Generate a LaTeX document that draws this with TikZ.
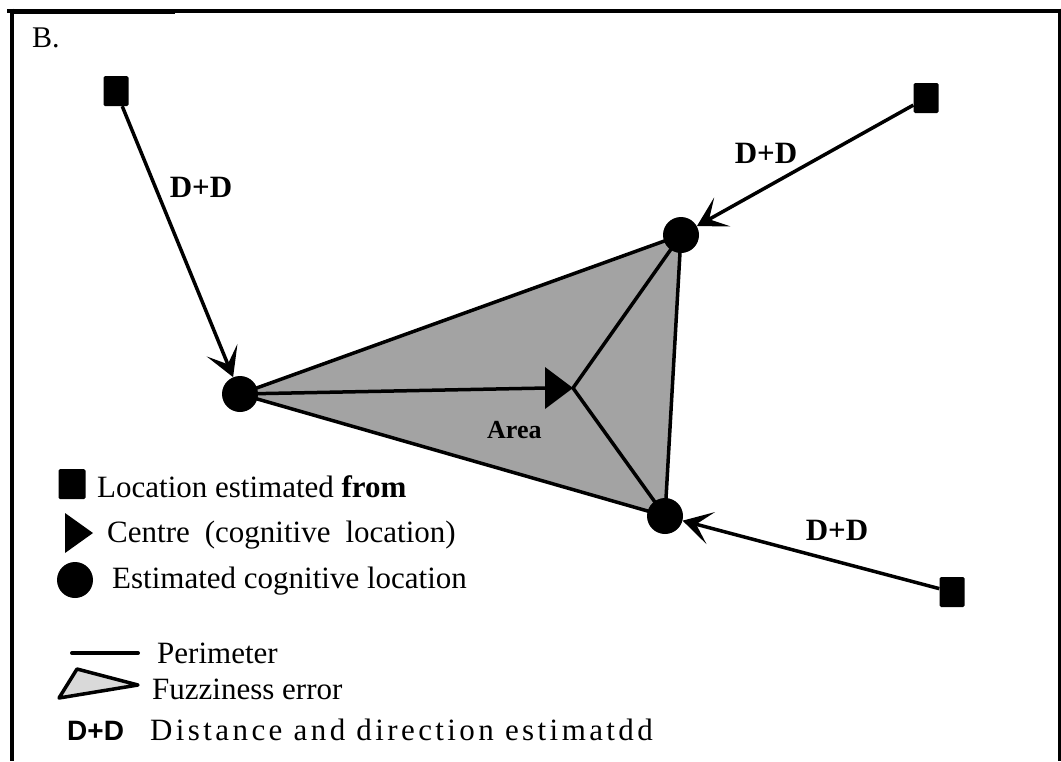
\documentclass[tikz,border=0pt]{standalone}
\usepackage{fontspec}
\setmainfont{Liberation Serif}
\newfontfamily\legsans{Liberation Sans}
\usetikzlibrary{arrows.meta}
\begin{document}
\begin{tikzpicture}[x=1pt,y=-1pt,
  sq/.style={fill=black,minimum width=25pt,minimum height=30pt,inner sep=0pt,rounded corners=1.5pt},
  dot/.style={circle,fill=black,minimum size=36pt,inner sep=0pt},
  arr/.style={line width=3.5pt,-{Stealth[length=29pt,width=33pt,inset=15pt]}},
  edgeline/.style={line width=3.5pt,line cap=round},
  lbl/.style={font=\bfseries\fontsize{31}{36}\selectfont,inner sep=0pt},
  leg/.style={font=\fontsize{31}{36}\selectfont,inner sep=0pt,anchor=base west}]
\useasboundingbox (0,0) rectangle (1061,761);
% frame
\draw[line width=4pt] (7,10.5) -- (1058,10.5);
\draw[line width=1pt] (14,13.5) -- (175,13.5);
\draw[line width=4pt] (12,8.5) -- (12,761);
\draw[line width=3pt] (1059.5,8.5) -- (1059.5,761);
\node[anchor=base west,font=\fontsize{30}{34}\selectfont,inner sep=0pt] (title) at (32,47) {B.};
% cognitive locations
\coordinate (v1) at (240,394);
\coordinate (v2) at (681,235);
\coordinate (v3) at (665,516);
\coordinate (cb1) at (545,367);
\coordinate (cb2) at (545,409);
\coordinate (ctip) at (573,388);
\coordinate (cmid) at (547,388);
\filldraw[fill=black!36,line width=3.5pt,line join=round] (v1) -- (v2) -- (v3) -- cycle;
\draw[edgeline] (v1) -- (cmid);
\draw[edgeline] (v2) -- (ctip);
\draw[edgeline] (v3) -- (ctip);
\fill (cb1) -- (ctip) -- (cb2) -- cycle;
\node[dot] (c1) at (v1) {};
\node[dot] (c2) at (v2) {};
\node[dot] (c3) at (v3) {};
\node[font=\bfseries\fontsize{26}{30}\selectfont,inner sep=0pt,anchor=base west] (area) at (487,438) {Area};
% origins
\node[sq] (s1) at (116,91) {};
\node[sq] (s2) at (926,98) {};
\node[sq] (s3) at (952,592) {};
\draw[arr] (s1) -- (c1);
\draw[arr] (s2) -- (c2);
\draw[arr] (s3) -- (c3);
\node[lbl] (l1) at (201,187) {D+D};
\node[lbl] (l2) at (766,153) {D+D};
\node[lbl] (l3) at (837,530) {D+D};
% legend
\node[sq,minimum width=27pt] (ls) at (72,484) {};
\node[leg] (lt1) at (97,497) {Location estimated \textbf{from}};
\coordinate (lta) at (65,513);
\coordinate (ltb) at (93,533);
\coordinate (ltc) at (65,553);
\fill (lta) -- (ltb) -- (ltc) -- cycle;
\node[leg] (lt2) at (107,542) {\spaceskip=15pt Centre (cognitive location)};
\node[dot] (lc) at (75,580) {};
\node[leg] (lt3) at (112,588) {Estimated cognitive location};
\coordinate (lpa) at (72,653);
\coordinate (lpb) at (138,653);
\draw[line width=4pt,line cap=round] (lpa) -- (lpb);
\node[leg] (lt4) at (157,663) {Perimeter};
\coordinate (lfa) at (59,698);
\coordinate (lfb) at (77,669);
\coordinate (lfc) at (138,685);
\filldraw[fill=black!15,line width=3.5pt,line join=round] (lfa) -- (lfb) -- (lfc) -- cycle;
\node[leg] (lt5) at (152,699) {Fuzziness error};
\node[leg,font=\legsans\bfseries\fontsize{28}{32}\selectfont] (lt6) at (67,740) {D+D};
\node[leg] (lt7) at (150,740) {\addfontfeature{LetterSpace=11}Distance and direction estimatdd};
\end{tikzpicture}
\end{document}
